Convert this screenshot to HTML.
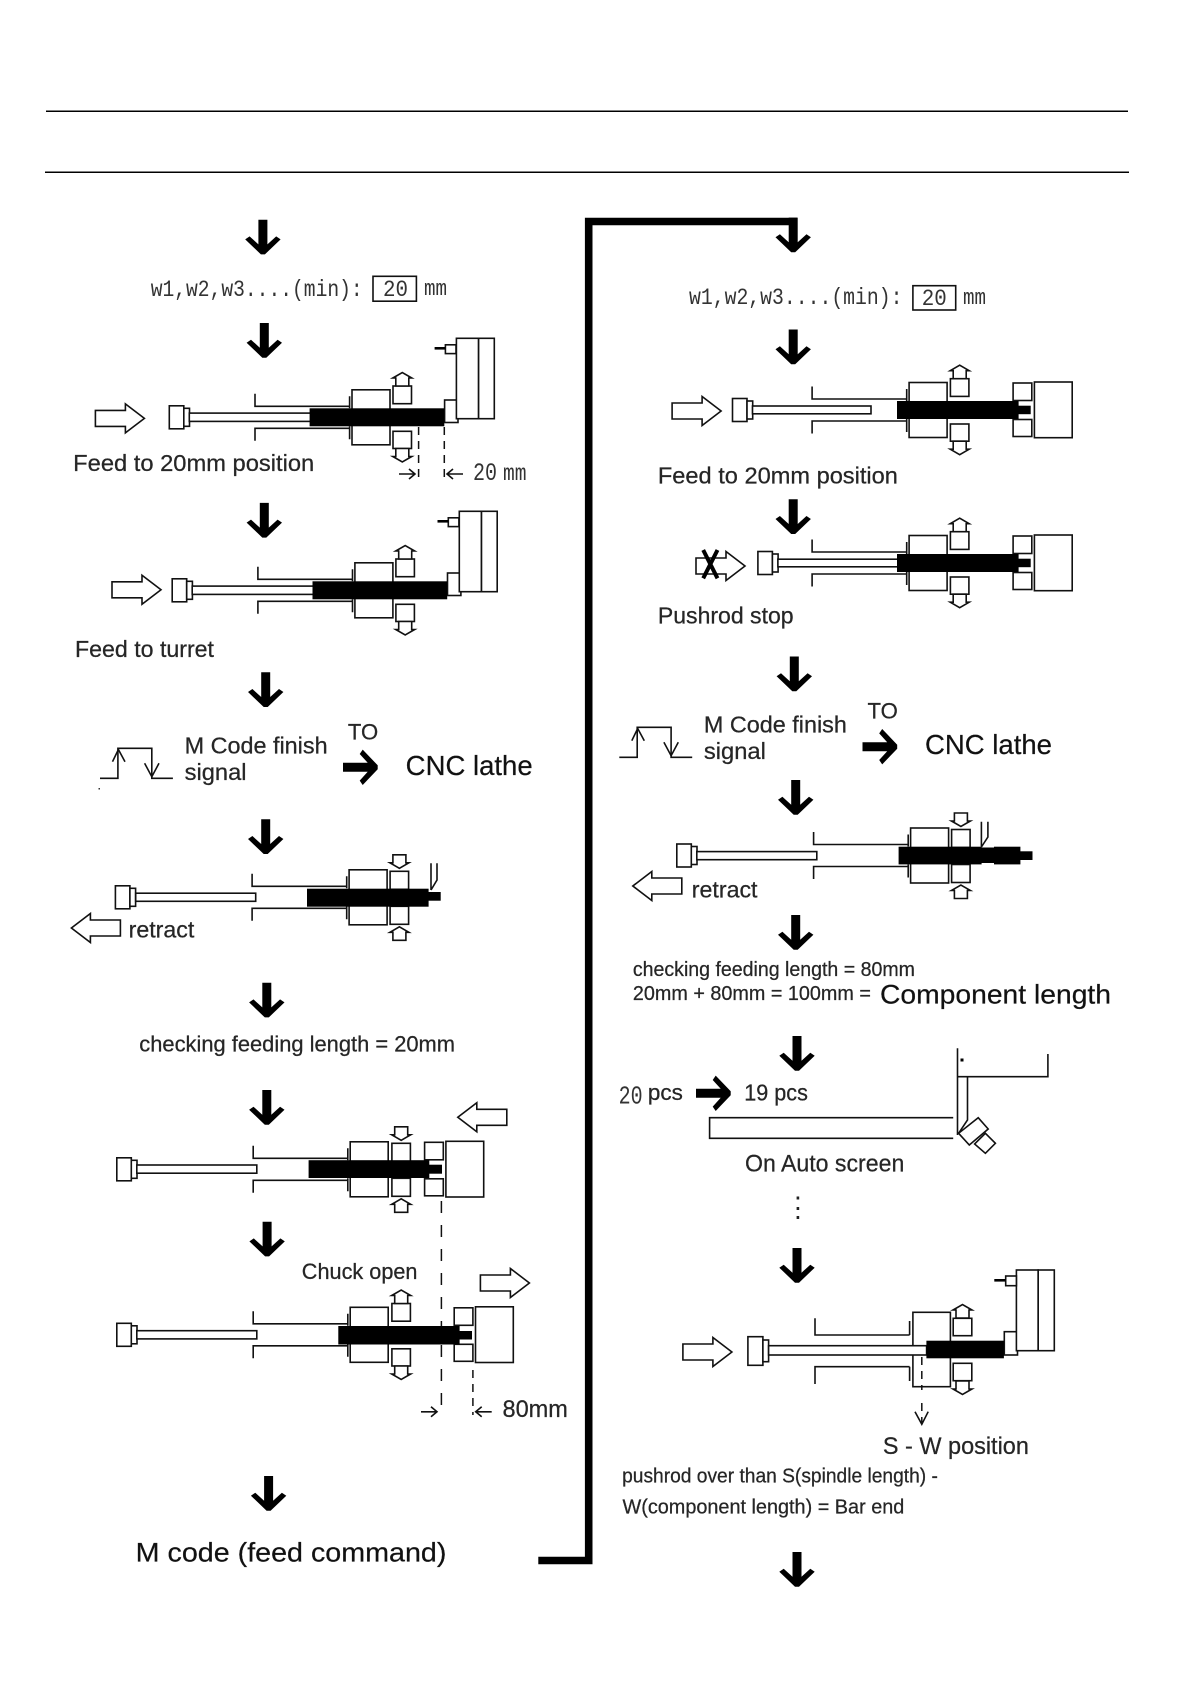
<!DOCTYPE html>
<html><head><meta charset="utf-8"><style>
html,body{margin:0;padding:0;background:#fff}
svg{display:block}
text{font-family:"Liberation Sans",Arial,sans-serif;fill:#262626;stroke:#262626;stroke-width:.25}
.m{font-family:"Liberation Mono",monospace;fill:#333;stroke:none}
.s{fill:none;stroke:#111;stroke-width:1.6}
.w{fill:#fff;stroke:#111;stroke-width:1.6}
.b{fill:#000}
.d{fill:none;stroke:#111;stroke-width:1.5;stroke-dasharray:8 6}
.dl{fill:none;stroke:#111;stroke-width:1.5;stroke-dasharray:12 12}
</style></head><body>
<svg width="1190" height="1684" viewBox="0 0 1190 1684" xmlns="http://www.w3.org/2000/svg">
<defs>
<polygon id="ar" fill="#000" points="-4.5,0 4.5,0 4.5,24.7 13.3,16.7 17.7,19.7 2,34.7 -2,34.7 -17.7,19.7 -13.3,16.7 -4.5,24.7"/>
<g id="pu"><rect class="w" x="0" y="-11.5" width="14.5" height="23"/><rect class="w" x="14.5" y="-9" width="5.7" height="18"/></g>
<polygon id="hr" class="w" points="0,-8 30,-8 30,-14.5 49,0 30,14.5 30,8 0,8"/>
<polygon id="up" class="w" points="-6.5,0 6.5,0 6.5,-8 9.5,-8 0,-13.5 -9.5,-8 -6.5,-8"/>
<path id="dr" class="s" d="M-16,0H0M-6,-5L0,0L-6,5"/>
<g id="tube">
<path class="s" d="M0,-23.5V-11H94.6M94.6,-21V-9M0,23.5V11H94.6M94.6,22V9"/>
<rect class="w" x="97" y="-27.5" width="38" height="55"/>
</g>
<g id="tail">
<rect class="w" x="201" y="-27" width="18.7" height="17.5"/>
<rect class="w" x="201" y="9.5" width="18.7" height="17"/>
<rect class="w" x="222.3" y="-28" width="37.8" height="55.7"/>
</g>
<g id="jawo">
<rect class="w" x="138" y="-31.3" width="18.5" height="17.7"/>
<rect class="w" x="138" y="14" width="18.5" height="17.2"/>
<use href="#up" x="147.3" y="-31.3"/>
<use href="#up" transform="translate(147.3,31.2) scale(1,-1)"/>
</g>
<g id="jawi">
<rect class="w" x="138" y="-26" width="18.5" height="18"/>
<rect class="w" x="138" y="9" width="18.5" height="18"/>
<use href="#up" transform="translate(147.3,-42.5) scale(1,-1)"/>
<use href="#up" transform="translate(147.3,43)"/>
</g>
<g id="m1">
<use href="#pu" x="169.3" y="417.3"/>
<rect class="w" x="189.3" y="413.1" width="125" height="8.3"/>
<use href="#tube" x="255" y="417.3"/>
<use href="#jawo" x="255" y="417.3"/>
<rect class="w" x="444.6" y="400" width="13.4" height="22.5"/>
<rect class="w" x="456.4" y="338.3" width="22.2" height="80.4"/>
<rect class="w" x="478.6" y="338.3" width="15.7" height="80.4"/>
<rect class="w" x="445.4" y="344.8" width="10.6" height="8.8"/>
<rect class="b" x="434.6" y="347" width="10.8" height="2.6"/>
<rect class="b" x="309.6" y="408.3" width="134.7" height="18"/>
</g>
<g id="sig">
<path class="s" d="M100,778.3H117.9V748.3H151.8V778.3H172.9"/>
<path class="s" d="M112.5,761.7L118.4,749.5L125,761.7M144.6,763.3L151.8,776.7L159,763.3"/>
</g>
</defs>

<rect width="1190" height="1684" fill="#fff"/>
<rect class="b" x="46" y="110.5" width="1082" height="1.5" fill="#111"/>
<rect class="b" x="45" y="171.5" width="1084" height="1.5" fill="#111"/>

<!-- connector -->
<path d="M538.3,1560.5H588.7V221.5H797" fill="none" stroke="#000" stroke-width="7.6"/>

<!-- down arrows -->
<use href="#ar" x="262.9" y="219.7"/><use href="#ar" x="264.3" y="323"/><use href="#ar" x="264.3" y="502.9"/>
<use href="#ar" x="265.7" y="672.3"/><use href="#ar" x="265.7" y="819.3"/><use href="#ar" x="266.8" y="982.7"/>
<use href="#ar" x="266.8" y="1090"/><use href="#ar" x="267.1" y="1221.7"/><use href="#ar" x="268.6" y="1476"/>
<use href="#ar" x="793.2" y="217.6"/><use href="#ar" x="793.2" y="329.5"/><use href="#ar" x="793.2" y="499.3"/>
<use href="#ar" x="794.3" y="656.5"/><use href="#ar" x="795.7" y="780"/><use href="#ar" x="795.7" y="915"/>
<use href="#ar" x="797" y="1036"/><use href="#ar" x="797" y="1248"/><use href="#ar" x="797" y="1552"/>
<use href="#ar" transform="translate(343,767.3) rotate(-90)"/>
<use href="#ar" transform="translate(862.5,746.7) rotate(-90)"/>
<use href="#ar" transform="translate(696,1093.3) rotate(-90)"/>

<!-- left column -->
<text class="m" x="150.7" y="296" font-size="23" textLength="212" lengthAdjust="spacingAndGlyphs">w1,w2,w3....(min):</text>
<rect class="s" x="373" y="276.3" width="43.4" height="24.9"/>
<text class="m" x="383" y="296" font-size="23" textLength="25" lengthAdjust="spacingAndGlyphs">20</text>
<text class="m" x="424" y="295" font-size="22" textLength="23" lengthAdjust="spacingAndGlyphs">mm</text>

<use href="#hr" x="95.4" y="418.4"/>
<use href="#m1"/>
<line class="d" x1="418.6" y1="427" x2="418.6" y2="479"/>
<line class="d" x1="444.3" y1="427" x2="444.3" y2="479"/>
<use href="#dr" x="415" y="474"/>
<use href="#dr" transform="translate(447,474) scale(-1,1)"/>
<text x="73.2" y="471" font-size="23" textLength="241" lengthAdjust="spacingAndGlyphs">Feed to 20mm position</text>
<text class="m" x="473" y="480" font-size="25" textLength="24" lengthAdjust="spacingAndGlyphs">20</text>
<text class="m" x="503" y="480" font-size="23" textLength="23.5" lengthAdjust="spacingAndGlyphs">mm</text>

<use href="#hr" x="112" y="589.8"/>
<use href="#m1" x="2.9" y="173"/>
<text x="75" y="657" font-size="23" textLength="139" lengthAdjust="spacingAndGlyphs">Feed to turret</text>

<use href="#sig"/>
<rect x="98.5" y="788" width="1.5" height="1.5" fill="#333"/>
<text x="184.6" y="753.3" font-size="23" textLength="143" lengthAdjust="spacingAndGlyphs">M Code finish</text>
<text x="184.6" y="780" font-size="23" textLength="62" lengthAdjust="spacingAndGlyphs">signal</text>
<text x="347.9" y="739.3" font-size="22.5" textLength="30.3" lengthAdjust="spacingAndGlyphs">TO</text>
<text x="405.7" y="775" font-size="27.5" textLength="127" lengthAdjust="spacingAndGlyphs" style="fill:#111">CNC lathe</text>

<!-- retract L -->
<use href="#pu" x="115.4" y="897.3"/>
<rect class="w" x="135.7" y="893.2" width="120" height="8.1"/>
<use href="#tube" x="252.1" y="897.3"/>
<use href="#jawi" x="252.1" y="897.3"/>
<rect class="b" x="307" y="888.7" width="121.6" height="18"/>
<rect class="b" x="428" y="892" width="12.7" height="8.7"/>
<path class="s" d="M431,863.3V890M437,863.3V880L431,890"/>
<use href="#hr" transform="translate(120.4,928) scale(-1,1)"/>
<text x="128.6" y="937.7" font-size="23" textLength="65.7" lengthAdjust="spacingAndGlyphs">retract</text>

<text x="139.3" y="1051.7" font-size="22" textLength="315.7" lengthAdjust="spacingAndGlyphs">checking feeding length = 20mm</text>

<!-- chuck closed with turret in -->
<use href="#pu" x="116.8" y="1169.3"/>
<rect class="w" x="136.8" y="1165" width="120" height="8.2"/>
<use href="#tube" x="253.2" y="1169.3"/>
<use href="#jawi" x="253.9" y="1169.3"/>
<use href="#tail" x="223.6" y="1169.3"/>
<rect class="b" x="308.6" y="1160.2" width="120.7" height="17.8"/>
<rect class="b" x="429" y="1164.7" width="13" height="9"/>
<use href="#hr" transform="translate(506.8,1117.3) scale(-1,1)"/>
<line class="dl" x1="441.4" y1="1201" x2="441.4" y2="1415"/>

<!-- chuck open -->
<text x="301.8" y="1279" font-size="22" textLength="115.7" lengthAdjust="spacingAndGlyphs">Chuck open</text>
<use href="#hr" x="480.4" y="1283"/>
<use href="#pu" x="116.8" y="1334.8"/>
<rect class="w" x="136.8" y="1330.7" width="120" height="8.2"/>
<use href="#tube" x="253.2" y="1334.8"/>
<use href="#jawo" x="253.9" y="1334.8"/>
<use href="#tail" x="253.2" y="1334.8"/>
<rect class="b" x="338.3" y="1326" width="121.3" height="18.5"/>
<rect class="b" x="459" y="1331" width="13" height="8.5"/>
<line class="d" x1="472.9" y1="1370" x2="472.9" y2="1415"/>
<use href="#dr" x="437" y="1411.8"/>
<use href="#dr" transform="translate(475.7,1411.8) scale(-1,1)"/>
<text x="502.5" y="1417" font-size="24" textLength="65.4" lengthAdjust="spacingAndGlyphs">80mm</text>

<text x="135.7" y="1561.3" font-size="27" textLength="310.7" lengthAdjust="spacingAndGlyphs" style="fill:#111">M code (feed command)</text>

<!-- right column -->
<text class="m" x="689" y="304" font-size="23" textLength="213.5" lengthAdjust="spacingAndGlyphs">w1,w2,w3....(min):</text>
<rect class="s" x="912.9" y="285.7" width="42.8" height="24.3"/>
<text class="m" x="921.8" y="305" font-size="23" textLength="25" lengthAdjust="spacingAndGlyphs">20</text>
<text class="m" x="963" y="304" font-size="22" textLength="23" lengthAdjust="spacingAndGlyphs">mm</text>

<use href="#hr" x="672.1" y="411"/>
<use href="#pu" x="732.5" y="410"/>
<rect class="w" x="752.5" y="406" width="118.5" height="7.8"/>
<use href="#tube" x="812.1" y="410"/>
<use href="#jawo" x="812.4" y="410"/>
<use href="#tail" x="812.1" y="410"/>
<rect class="b" x="897" y="401" width="121.6" height="18"/>
<rect class="b" x="1018" y="405.7" width="12.7" height="8.5"/>
<text x="657.9" y="483.3" font-size="23" textLength="240" lengthAdjust="spacingAndGlyphs">Feed to 20mm position</text>

<use href="#hr" x="696" y="566"/>
<path d="M703.2,550L717.5,578.3M717.5,550L703.2,578.3" stroke="#000" stroke-width="4" fill="none"/>
<use href="#pu" x="757.9" y="563"/>
<rect class="w" x="777.9" y="559.2" width="120" height="7.6"/>
<use href="#tube" x="812.1" y="563"/>
<use href="#jawo" x="812.4" y="563"/>
<use href="#tail" x="812.1" y="563"/>
<rect class="b" x="897" y="554" width="121.6" height="18"/>
<rect class="b" x="1018" y="558.7" width="12.7" height="8.5"/>
<text x="657.9" y="623.3" font-size="23" textLength="135.7" lengthAdjust="spacingAndGlyphs">Pushrod stop</text>

<use href="#sig" x="519.3" y="-21"/>
<text x="703.9" y="732.3" font-size="23" textLength="143" lengthAdjust="spacingAndGlyphs">M Code finish</text>
<text x="703.9" y="759" font-size="23" textLength="62" lengthAdjust="spacingAndGlyphs">signal</text>
<text x="867.5" y="718.3" font-size="22.5" textLength="30.3" lengthAdjust="spacingAndGlyphs">TO</text>
<text x="925" y="754" font-size="27.5" textLength="127" lengthAdjust="spacingAndGlyphs" style="fill:#111">CNC lathe</text>

<!-- retract R -->
<use href="#pu" x="676.8" y="855.5"/>
<rect class="w" x="696.8" y="851.6" width="120" height="8.1"/>
<use href="#tube" x="813.6" y="855.5"/>
<use href="#jawi" x="813.6" y="855.5"/>
<rect class="b" x="898.6" y="846.7" width="83" height="17.7"/>
<rect class="b" x="981" y="847.5" width="14" height="15.5"/>
<rect class="b" x="994" y="846.7" width="26.4" height="17.7"/>
<rect class="b" x="1020" y="851.3" width="12.5" height="8.7"/>
<path class="s" d="M981.4,821.7V846.7M987.9,821.7V837L981.4,847"/>
<use href="#hr" transform="translate(681.8,886) scale(-1,1)"/>
<text x="691.8" y="897.3" font-size="23" textLength="65.7" lengthAdjust="spacingAndGlyphs">retract</text>

<text x="632.9" y="976" font-size="20" textLength="282" lengthAdjust="spacingAndGlyphs">checking feeding length = 80mm</text>
<text x="632.9" y="1000" font-size="20" textLength="238" lengthAdjust="spacingAndGlyphs">20mm + 80mm = 100mm =</text>
<text x="880" y="1003.3" font-size="27" textLength="231" lengthAdjust="spacingAndGlyphs" style="fill:#111">Component length</text>

<text class="m" x="618.6" y="1103.3" font-size="26" textLength="24" lengthAdjust="spacingAndGlyphs">20</text>
<text x="647.9" y="1100" font-size="22" textLength="35" lengthAdjust="spacingAndGlyphs">pcs</text>
<text x="744.3" y="1100.7" font-size="23" textLength="63.6" lengthAdjust="spacingAndGlyphs">19 pcs</text>
<path class="s" d="M953.2,1117.7H709.6V1138.3H953.2"/>
<path class="s" d="M957.5,1048.3V1135M967.5,1076.7V1120L958.6,1133.3M957.5,1076.7H1047.9V1054"/>
<rect x="960.5" y="1058.5" width="3" height="3" fill="#000"/>
<polygon class="w" points="978.2,1117.7 988.2,1129 969.3,1145 958.6,1133.3"/>
<polygon class="w" points="985.4,1133.3 995.4,1143.3 985.4,1153.3 974.6,1144"/>
<text x="745" y="1171.7" font-size="24" textLength="159.3" lengthAdjust="spacingAndGlyphs">On Auto screen</text>

<rect x="796.6" y="1196.5" width="2.6" height="3" fill="#222"/>
<rect x="796.6" y="1207" width="2.6" height="3" fill="#222"/>
<rect x="796.6" y="1216" width="2.6" height="3" fill="#222"/>

<!-- bar end -->
<use href="#hr" x="682.9" y="1352"/>
<rect class="w" x="747.9" y="1336.7" width="15" height="28.6"/>
<rect class="w" x="762.9" y="1340" width="5.7" height="21.7"/>
<path class="s" d="M815,1318.3V1335H909.6M909.6,1321V1335M815,1384V1366.7H909.6M909.6,1381V1366.7"/>
<rect class="w" x="912.9" y="1312.3" width="37.5" height="74.4"/>
<rect class="w" x="768.6" y="1345.7" width="158" height="9.3"/>
<rect class="w" x="953.2" y="1318.3" width="18.6" height="17.4"/>
<rect class="w" x="953.2" y="1363.3" width="18.6" height="17.4"/>
<use href="#up" x="962.5" y="1318"/>
<use href="#up" transform="translate(962.5,1381) scale(1,-1)"/>
<rect class="w" x="1004.3" y="1331.7" width="13.2" height="23.3"/>
<rect class="w" x="1016.4" y="1270" width="21.8" height="80.7"/>
<rect class="w" x="1038.2" y="1270" width="16.1" height="80.7"/>
<rect class="w" x="1005.7" y="1276" width="10.7" height="9.7"/>
<rect class="b" x="994.3" y="1279" width="11.4" height="2.6"/>
<rect class="b" x="926.4" y="1340.7" width="77.5" height="17.6"/>
<line class="d" x1="921.8" y1="1357" x2="921.8" y2="1390"/>
<line class="d" x1="921.8" y1="1403" x2="921.8" y2="1424"/>
<path class="s" d="M915,1411.7L921.8,1424.3L928.2,1411.7"/>
<text x="882.9" y="1454" font-size="24" textLength="146" lengthAdjust="spacingAndGlyphs">S - W position</text>
<text x="622.1" y="1482.7" font-size="20" textLength="315.8" lengthAdjust="spacingAndGlyphs">pushrod over than S(spindle length) -</text>
<text x="622.5" y="1513.3" font-size="20" textLength="281.8" lengthAdjust="spacingAndGlyphs">W(component length)  = Bar end</text>
</svg>
</body></html>
